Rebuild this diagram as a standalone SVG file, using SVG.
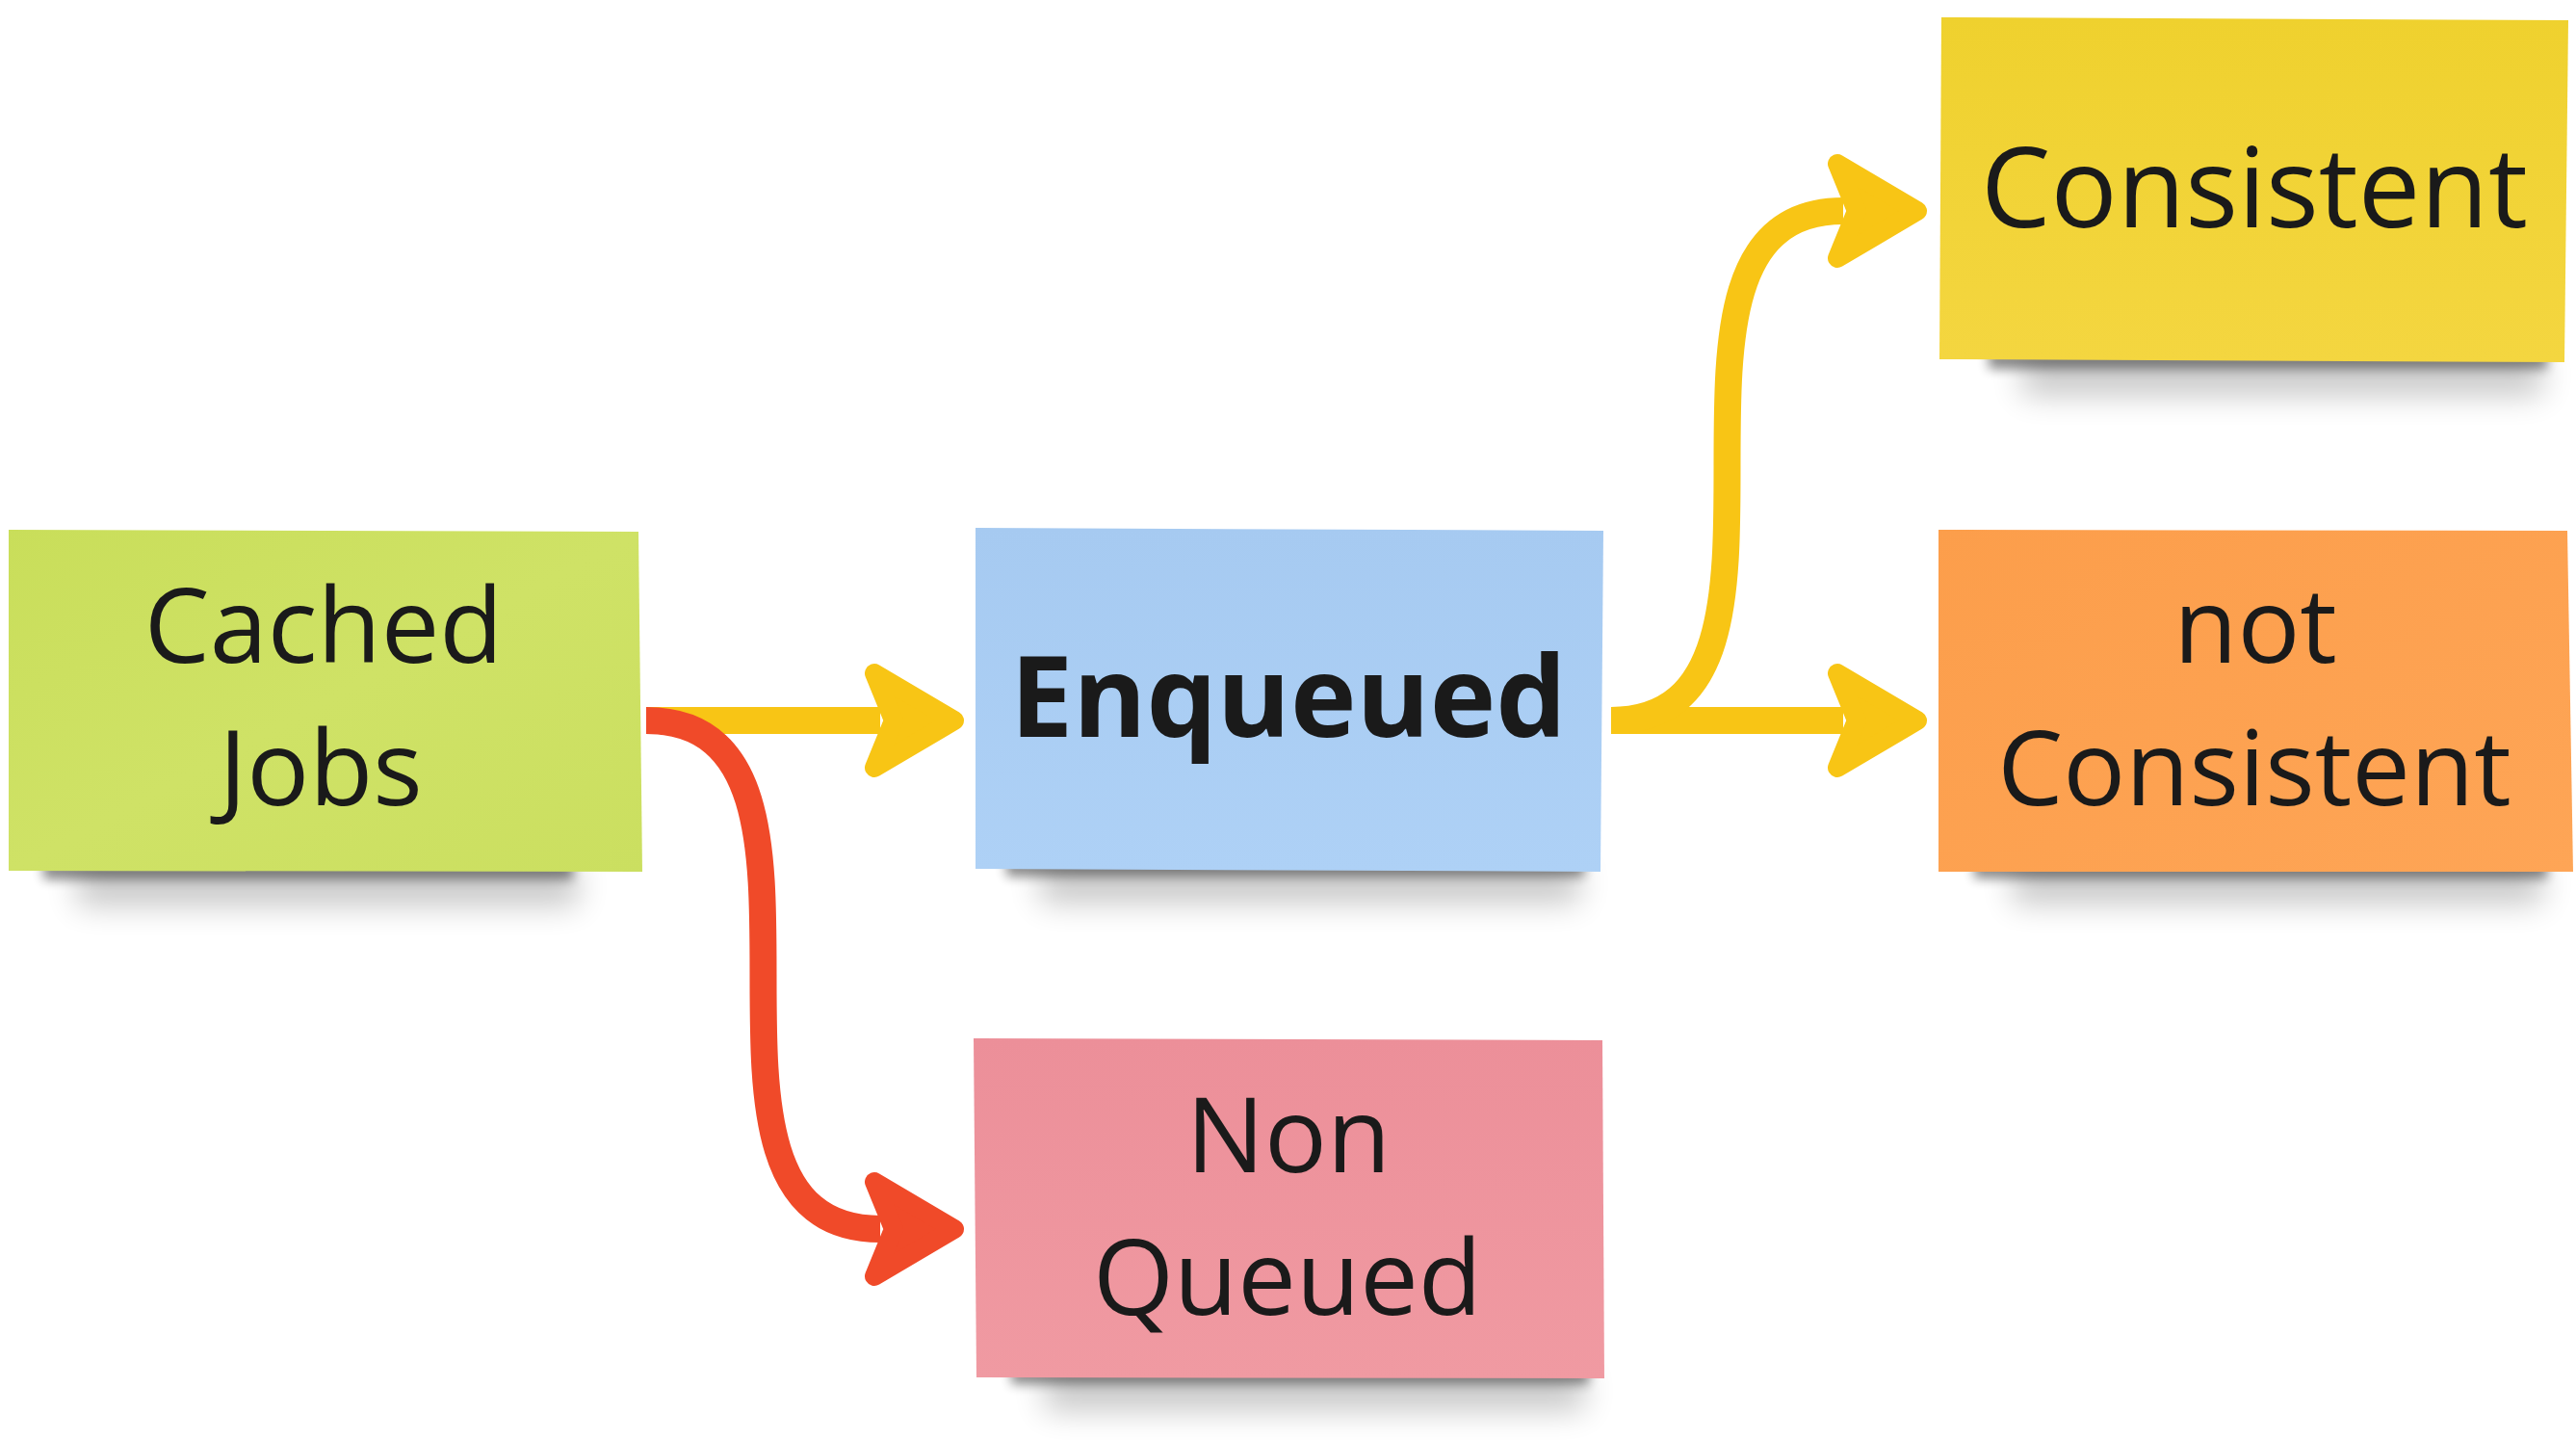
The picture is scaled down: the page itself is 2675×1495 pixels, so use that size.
<svg xmlns="http://www.w3.org/2000/svg" width="2675" height="1495" viewBox="0 0 2675 1495">
  <style>
    .lbl { font-family: "Open Sans", "Noto Sans", "Liberation Sans", sans-serif; fill: #1a1a1a; text-anchor: middle; }
    .reg { font-weight: 400; }
    .bold { font-weight: 700; }
    .sh1 { fill: #000; opacity: 0.45; filter: url(#blurA); }
    .sh2 { fill: #000; opacity: 0.22; filter: url(#blurB); }
    .conn { fill: none; stroke-width: 28; stroke-linecap: butt; }
    .yel { stroke: #F8C515; }
    .red { stroke: #F04A29; }
  </style>
  <defs>
    <filter id="blurA" x="-20%" y="-200%" width="140%" height="500%">
      <feGaussianBlur stdDeviation="6"/>
    </filter>
    <filter id="blurB" x="-20%" y="-200%" width="140%" height="500%">
      <feGaussianBlur stdDeviation="16"/>
    </filter>
    <marker id="ahY" markerUnits="userSpaceOnUse" viewBox="-100 -100 200 200" markerWidth="200" markerHeight="200" refX="0" refY="0" orient="auto" overflow="visible">
      <path d="M -6,-49 L 77,0 L -6,49 L 14,0 Z" fill="#F8C515" stroke="#F8C515" stroke-width="20" stroke-linejoin="round"/>
    </marker>
    <marker id="ahR" markerUnits="userSpaceOnUse" viewBox="-100 -100 200 200" markerWidth="200" markerHeight="200" refX="0" refY="0" orient="auto" overflow="visible">
      <path d="M -6,-49 L 77,0 L -6,49 L 14,0 Z" fill="#F04A29" stroke="#F04A29" stroke-width="20" stroke-linejoin="round"/>
    </marker>
    <linearGradient id="gGreen" x1="0" y1="0" x2="1" y2="1">
      <stop offset="0" stop-color="#C9DE5A"/>
      <stop offset="0.5" stop-color="#CFE266"/>
      <stop offset="1" stop-color="#CBDF60"/>
    </linearGradient>
    <linearGradient id="gBlue" x1="0" y1="0" x2="0" y2="1">
      <stop offset="0" stop-color="#A6CAF1"/>
      <stop offset="1" stop-color="#AED1F6"/>
    </linearGradient>
    <linearGradient id="gYellow" x1="0" y1="0" x2="0" y2="1">
      <stop offset="0" stop-color="#EFD12E"/>
      <stop offset="1" stop-color="#F4D640"/>
    </linearGradient>
    <linearGradient id="gOrange" x1="0" y1="0" x2="1" y2="1">
      <stop offset="0" stop-color="#FC9E4B"/>
      <stop offset="1" stop-color="#FEA556"/>
    </linearGradient>
    <linearGradient id="gPink" x1="0" y1="0" x2="0" y2="1">
      <stop offset="0" stop-color="#EC8F99"/>
      <stop offset="1" stop-color="#F09AA2"/>
    </linearGradient>
  </defs>

  <rect x="0" y="0" width="2675" height="1495" fill="#ffffff"/>

  <g id="node-cached-jobs">
    <rect class="sh2" x="80" y="900" width="520" height="40"/>
    <rect class="sh1" x="45" y="893" width="550" height="20"/>
    <polygon points="9,550 663,552 667,905 9,904" fill="url(#gGreen)"/>
    <text class="lbl reg" x="336" y="688" font-size="108">Cached</text>
    <text class="lbl reg" x="333" y="836" font-size="108">Jobs</text>
  </g>

  <g id="node-enqueued">
    <rect class="sh2" x="1080" y="897" width="560" height="40"/>
    <rect class="sh1" x="1045" y="890" width="600" height="20"/>
    <polygon points="1013,548 1665,551 1662,905 1013,902" fill="url(#gBlue)"/>
    <text class="lbl bold" x="1338" y="765" font-size="116">Enqueued</text>
  </g>

  <g id="node-non-queued">
    <rect class="sh2" x="1085" y="1424" width="560" height="40"/>
    <rect class="sh1" x="1050" y="1417" width="600" height="20"/>
    <polygon points="1011,1078 1664,1080 1666,1431 1014,1430" fill="url(#gPink)"/>
    <text class="lbl reg" x="1338" y="1217" font-size="108">Non</text>
    <text class="lbl reg" x="1337" y="1365" font-size="108">Queued</text>
  </g>

  <g id="node-consistent">
    <rect class="sh2" x="2100" y="370" width="540" height="40"/>
    <rect class="sh1" x="2065" y="363" width="580" height="20"/>
    <polygon points="2016,18 2667,21 2663,376 2014,373" fill="url(#gYellow)"/>
    <text class="lbl reg" x="2341" y="236" font-size="115">Consistent</text>
  </g>

  <g id="node-not-consistent">
    <rect class="sh2" x="2090" y="898" width="550" height="40"/>
    <rect class="sh1" x="2050" y="892" width="595" height="20"/>
    <polygon points="2013,550 2666,551 2672,905 2013,905" fill="url(#gOrange)"/>
    <text class="lbl reg" x="2342" y="688" font-size="108">not</text>
    <text class="lbl reg" x="2341" y="836" font-size="108">Consistent</text>
  </g>

  <g id="connectors">
    <path class="conn yel" d="M 671,748 H 914" marker-end="url(#ahY)"/>
    <path class="conn red" d="M 671,748 C 914,748 671,1276 914,1276" marker-end="url(#ahR)"/>
    <path class="conn yel" d="M 1673,748 H 1914" marker-end="url(#ahY)"/>
    <path class="conn yel" d="M 1673,748 C 1914,748 1673,219 1914,219" marker-end="url(#ahY)"/>
  </g>
</svg>
